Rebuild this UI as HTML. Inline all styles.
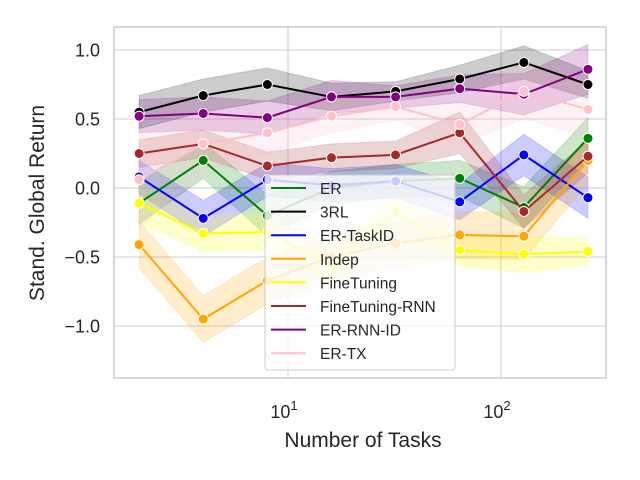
<!DOCTYPE html>
<html><head><meta charset="utf-8"><style>
body{margin:0;background:#fff;}
svg{display:block;font-family:"Liberation Sans","DejaVu Sans",sans-serif;}
</style></head><body>
<svg id="chart" width="640" height="480" viewBox="0 0 640 480"></svg>
<script>
const tasks=[2,4,8,16,32,64,128,256];
const seriesNames=["ER","3RL","ER-TaskID","Indep","FineTuning","FineTuning-RNN","ER-RNN-ID","ER-TX"];
const seriesColors=["green","black","blue","orange","yellow","brown","purple","pink"];
const erVals=[-0.11,0.20,-0.20,0.00,0.05,0.07,-0.14,0.36];
const rlVals=[0.55,0.67,0.75,0.66,0.70,0.79,0.91,0.75];
const taskIdVals=[0.08,-0.22,0.06,0.02,0.05,-0.10,0.24,-0.07];
const indepVals=[-0.41,-0.95,-0.67,-0.50,-0.40,-0.34,-0.35,0.20];
const ftVals=[-0.11,-0.33,-0.32,-0.57,-0.17,-0.45,-0.48,-0.46];
const ftRnnVals=[0.25,0.32,0.16,0.22,0.24,0.40,-0.17,0.23];
const rnnIdVals=[0.52,0.54,0.51,0.66,0.66,0.72,0.68,0.86];
const txVals=[0.06,0.32,0.40,0.52,0.59,0.46,0.70,0.57];
const erCi=[0.15,0.13,0.15,0.12,0.12,0.13,0.15,0.15];
const rlCi=[0.12,0.12,0.12,0.1,0.07,0.1,0.12,0.1];
const taskIdCi=[0.12,0.13,0.12,0.12,0.12,0.13,0.15,0.15];
const indepCi=[0.17,0.17,0.17,0.17,0.17,0.17,0.17,0.17];
const ftCi=[0.15,0.13,0.13,0.12,0.12,0.12,0.13,0.1];
const ftRnnCi=[0.1,0.1,0.1,0.1,0.1,0.15,0.12,0.12];
const rnnIdCi=[0.12,0.12,0.12,0.12,0.08,0.1,0.15,0.18];
const txCi=[0.35,0.2,0.15,0.12,0.1,0.15,0.2,0.2];
const yTicks=[1.0,0.5,0.0,-0.5,-1.0];
const yTickLabels=["1.0","0.5","0.0","\u22120.5","\u22121.0"];
const xTicks=[10,100];
const xTickExp=["1","2"];
const allVals=[erVals,rlVals,taskIdVals,indepVals,ftVals,ftRnnVals,rnnIdVals,txVals];
const allCi=[erCi,rlCi,taskIdCi,indepCi,ftCi,ftRnnCi,rnnIdCi,txCi];

const L=114,R=606,T=27,B=378;
const xs=v=>288+213*(Math.log10(v)-1);
const ys=v=>188-138*v;
const svg=document.getElementById('chart');
const NS="http://www.w3.org/2000/svg";
function mk(tag,attrs,parent){const e=document.createElementNS(NS,tag);for(const k in attrs)e.setAttribute(k,attrs[k]);(parent||svg).appendChild(e);return e;}

const frame=mk('rect',{x:L,y:T,width:R-L,height:B-T,fill:'#fff',stroke:'none'});


yTicks.forEach((t,i)=>{
  const g=mk('line',{x1:L,x2:R,y1:ys(t),y2:ys(t),stroke:'#cccccc','stroke-width':1});
  
  
  const tx=mk('text',{x:100,y:ys(t)+6.5,'text-anchor':'end','font-size':18,fill:'#262626'});
  tx.textContent=yTickLabels[i];
  
  
});
xTicks.forEach((t,i)=>{
  const g=mk('line',{x1:xs(t),x2:xs(t),y1:T,y2:B,stroke:'#cccccc','stroke-width':1});
  
  
  const tx=mk('text',{x:xs(t)-4,y:418,'text-anchor':'middle','font-size':18,fill:'#262626'});
  tx.textContent='10';
  const sp=mk('tspan',{dy:-8,'font-size':13},tx);
  sp.textContent=xTickExp[i];
  
  
});
allVals.forEach((vals,si)=>{
  const ci=allCi[si];
  let up=tasks.map((t,i)=>xs(t)+','+ys(vals[i]+ci[i]));
  let lo=tasks.map((t,i)=>xs(t)+','+ys(vals[i]-ci[i])).reverse();
  const p=mk('polygon',{points:up.concat(lo).join(' '),fill:seriesColors[si],'fill-opacity':0.2,stroke:seriesColors[si],'stroke-opacity':0.15});
  
  
});
allVals.forEach((vals,si)=>{
  const pl=mk('polyline',{points:tasks.map((t,i)=>xs(t)+','+ys(vals[i])).join(' '),fill:'none',stroke:seriesColors[si],'stroke-width':2});
  
  
  tasks.forEach((t,i)=>{
    const c=mk('circle',{cx:xs(t),cy:ys(vals[i]),r:5,fill:seriesColors[si],stroke:'#fff','stroke-width':1});
    
    
  });
});
const border=mk('rect',{x:L,y:T,width:R-L,height:B-T,fill:'none',stroke:'#cccccc','stroke-width':1.5});



const lg=mk('g',{});


mk('rect',{x:265,y:175,width:190,height:195,rx:3,fill:'#fff','fill-opacity':0.8,stroke:'#cccccc'},lg);
seriesNames.forEach((n,i)=>{
  const y=188+i*23.6;
  const ln=mk('line',{x1:271,x2:306,y1:y,y2:y,stroke:seriesColors[i],'stroke-width':2},lg);
  
  
  const tx=mk('text',{x:320,y:y+6,'font-size':15.5,fill:'#262626'},lg);
  tx.textContent=n;
  
  
});
const xt=mk('text',{x:363,y:447,'text-anchor':'middle','font-size':21,fill:'#262626'});
xt.textContent='Number of Tasks';


const yt=mk('text',{x:0,y:0,'text-anchor':'middle','font-size':21,fill:'#262626',transform:'translate(44,203) rotate(-90)'});
yt.textContent='Stand. Global Return';


</script>
</body></html>
